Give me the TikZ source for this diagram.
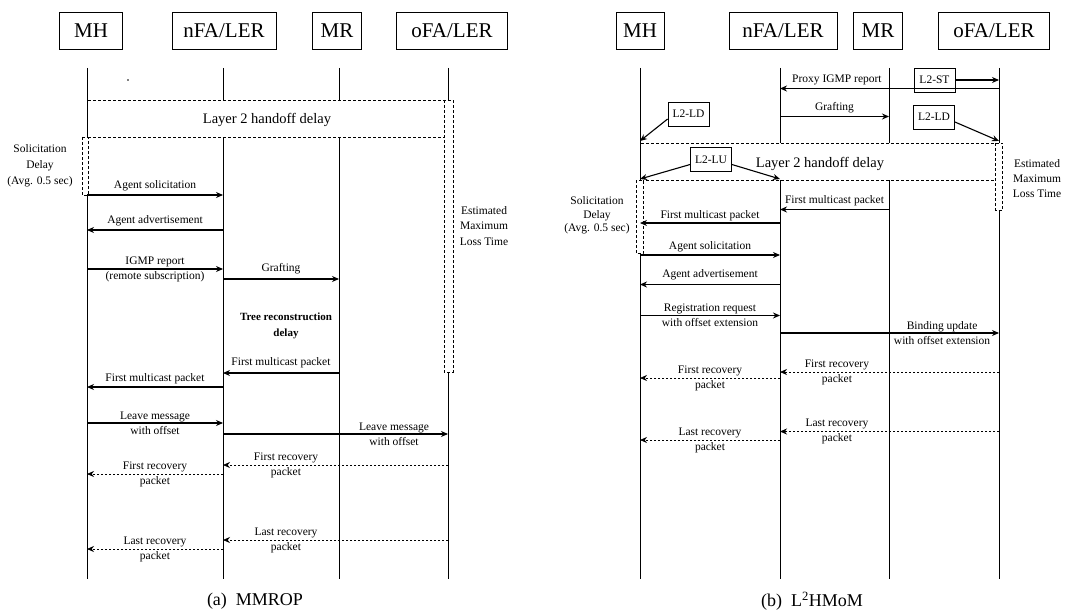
\documentclass[tikz,border=0pt]{standalone}
\usepackage{fontspec}
\setmainfont{Liberation Serif}
\usepackage{tikz}
\usetikzlibrary{arrows.meta,positioning,calc}

\begin{document}
\begin{tikzpicture}[
  x=1pt, y=-1pt,
  ent/.style={draw, line width=0.8pt, minimum height=37pt, inner sep=0pt,
              font=\fontsize{21}{24}\selectfont},
  life/.style={line width=0.8pt},
  msg/.style={-{Stealth[length=7pt,width=6pt]}, line width=1.1pt},
  rcv/.style={-{Stealth[length=7pt,width=6pt]}, line width=0.8pt,
              dash pattern=on 2.5pt off 1.5pt},
  lbl/.style={font=\fontsize{11.5}{14}\selectfont, inner sep=1pt},
  lbltwo/.style={font=\fontsize{11.5}{15}\selectfont, inner sep=1pt, align=center},
  brk/.style={line width=0.6pt, dash pattern=on 3pt off 2pt},
  tag/.style={draw, fill=white, line width=0.8pt, inner sep=0pt,
              minimum width=41pt, minimum height=24pt,
              font=\fontsize{11.5}{13}\selectfont},
  note/.style={font=\fontsize{11.5}{16}\selectfont, align=center, inner sep=0pt},
  captxt/.style={font=\fontsize{18}{21}\selectfont}
]
\useasboundingbox (0,0) rectangle (1076,615);

% ===================== (a) MMROP =====================================
\node[ent, minimum width=63pt]  (mhA)  at (91,30.5)  {MH};
\node[ent, minimum width=104pt] (nfaA) at (224,30.5) {nFA/LER};
\node[ent, minimum width=49pt]  (mrA)  at (337,30.5) {MR};
\node[ent, minimum width=111pt] (ofaA) at (452,30.5) {oFA/LER};

\coordinate (lmh) at (87,68);
\coordinate (lnf) at (223,68);
\coordinate (lmr) at (339,68);
\coordinate (lof) at (448,68);
\foreach \l in {lmh, lnf, lmr, lof}{%
  \draw[life] (\l) -- (\l |- 0,579);
}
\fill (128,80) circle (0.9pt);

% --- layer 2 handoff and the two brackets ------------------------------
\fill[white] (88,100) rectangle (453,137);
\draw[brk] (88,100) -- (444,100);
\draw[brk] (88,137) -- (444,137);
\node[font=\fontsize{14.5}{17}\selectfont] (hoA) at (267,120) {Layer 2 handoff delay};
\draw[brk, fill=white] (444,100) rectangle (453,372);
\node[note, font=\fontsize{11.5}{15.5}\selectfont] (lossA) at (484,226) {Estimated\\Maximum\\Loss Time};
\draw[brk, fill=white] (82,137) rectangle (88,195);
\node[note] (solA) at (40,166) {Solicitation\\Delay\\(Avg. 0.5 sec)};

% --- messages ----------------------------------------------------------
\draw[msg] (lmh |- 0,195) -- node[lbl, above=2pt] {Agent solicitation} (lnf |- 0,195);
\draw[msg] (lnf |- 0,230) -- node[lbl, above=2pt] {Agent advertisement} (lmh |- 0,230);
\draw[msg] (lmh |- 0,269) -- node[lbltwo] {IGMP report\\(remote subscription)} (lnf |- 0,269);
\draw[msg] (lnf |- 0,279) -- node[lbl, above=3pt] {Grafting} (lmr |- 0,279);
\node[lbltwo, font=\fontsize{11}{16}\selectfont\bfseries] (treeA) at (286,326) {Tree reconstruction\\delay};
\draw[msg] (lmr |- 0,373) -- node[lbl, above=4pt] {First multicast packet} (lnf |- 0,373);
\draw[msg] (lnf |- 0,387) -- node[lbl, above=2pt] {First multicast packet} (lmh |- 0,387);
\draw[msg] (lmh |- 0,423) -- node[lbltwo] {Leave message\\with offset} (lnf |- 0,423);
\draw[msg] (lnf |- 0,434) -- node[lbltwo, pos=0.76] {Leave message\\with offset} (lof |- 0,434);
\draw[rcv] (lof |- 0,465) -- node[lbltwo, pos=0.72] {First recovery\\packet} (lnf |- 0,465);
\draw[rcv] (lnf |- 0,474) -- node[lbltwo] {First recovery\\packet} (lmh |- 0,474);
\draw[rcv] (lof |- 0,540) -- node[lbltwo, pos=0.72] {Last recovery\\packet} (lnf |- 0,540);
\draw[rcv] (lnf |- 0,549) -- node[lbltwo] {Last recovery\\packet} (lmh |- 0,549);

\node[captxt] (capA) at (255,601) {(a)\ \ MMROP};

% ===================== (b) L2HMoM ====================================
\node[ent, minimum width=48pt]  (mhB)  at (640,30.5) {MH};
\node[ent, minimum width=108pt] (nfaB) at (783,30.5) {nFA/LER};
\node[ent, minimum width=49pt]  (mrB)  at (878,30.5) {MR};
\node[ent, minimum width=111pt] (ofaB) at (994,30.5) {oFA/LER};

\coordinate (rmh) at (640,68);
\coordinate (rnf) at (780,68);
\coordinate (rmr) at (889,68);
\coordinate (rof) at (999,68);
\foreach \l in {rmh, rnf, rmr, rof}{%
  \draw[life] (\l) -- (\l |- 0,579);
}

% --- link layer triggers before the handoff ---------------------------
\node[tag] (stB) at (934.5,80) {L2-ST};
\draw[msg] (stB) -- (rof |- stB);
\draw[msg] (rof |- 0,88.5) -- node[lbl, above=2pt, pos=0.74] {Proxy IGMP report} (rnf |- 0,88.5);
\draw[msg] (rnf |- 0,116.5) -- node[lbl, above=2pt] {Grafting} (rmr |- 0,116.5);
\node[tag] (ldB) at (688.5,114) {L2-LD};
\node[tag] (ldC) at (934,117) {L2-LD};
\draw[msg] ([yshift=-5pt]ldB.west) -- (rmh |- 0,141);
\draw[msg] ([yshift=-5pt]ldC.east) -- (rof |- 0,141);

% --- layer 2 handoff and the two brackets ------------------------------
\fill[white] (641,143) rectangle (995.5,180);
\draw[brk] (641,143) -- (995.5,143);
\draw[brk] (641,180) -- (995.5,180);
\node[font=\fontsize{14.5}{17}\selectfont] (hoB) at (820,164) {Layer 2 handoff delay};
\draw[brk, fill=white] (995.5,143) rectangle (1002.5,210);
\node[note, font=\fontsize{11.5}{15}\selectfont] (lossB) at (1037,179) {Estimated\\Maximum\\Loss Time};
\draw[brk, fill=white] (636,180) rectangle (643,253.5);
\node[note, font=\fontsize{11.5}{13.5}\selectfont] (solB) at (597,215.5) {Solicitation\\Delay\\(Avg. 0.5 sec)};
\node[tag] (luB) at (711,159.5) {L2-LU};
\draw[msg] ([yshift=-5pt]luB.west) -- (rmh |- 0,179);
\draw[msg] ([yshift=-5pt]luB.east) -- (rnf |- 0,179);

% --- messages ----------------------------------------------------------
\draw[msg] (rmr |- 0,209.5) -- node[lbl, above=2pt] {First multicast packet} (rnf |- 0,209.5);
\draw[msg] (rnf |- 0,223) -- node[lbl, above=1pt] {First multicast packet} (rmh |- 0,223);
\draw[msg] (rmh |- 0,255) -- node[lbl, above=1pt] {Agent solicitation} (rnf |- 0,255);
\draw[msg] (rnf |- 0,284.5) -- node[lbl, above=3pt] {Agent advertisement} (rmh |- 0,284.5);
\draw[msg] (rmh |- 0,315.5) -- node[lbltwo] {Registration request\\with offset extension} (rnf |- 0,315.5);
\draw[msg] (rnf |- 0,333) -- node[lbltwo, pos=0.74] {Binding update\\with offset extension} (rof |- 0,333);
\draw[rcv] (rof |- 0,372) -- node[lbltwo, pos=0.74] {First recovery\\packet} (rnf |- 0,372);
\draw[rcv] (rnf |- 0,378) -- node[lbltwo] {First recovery\\packet} (rmh |- 0,378);
\draw[rcv] (rof |- 0,431.5) -- node[lbltwo, pos=0.74] {Last recovery\\packet} (rnf |- 0,431.5);
\draw[rcv] (rnf |- 0,440) -- node[lbltwo] {Last recovery\\packet} (rmh |- 0,440);

\node[captxt] (capB) at (812,601) {(b)\ \ L\textsuperscript{2}HMoM};

\end{tikzpicture}
\end{document}
